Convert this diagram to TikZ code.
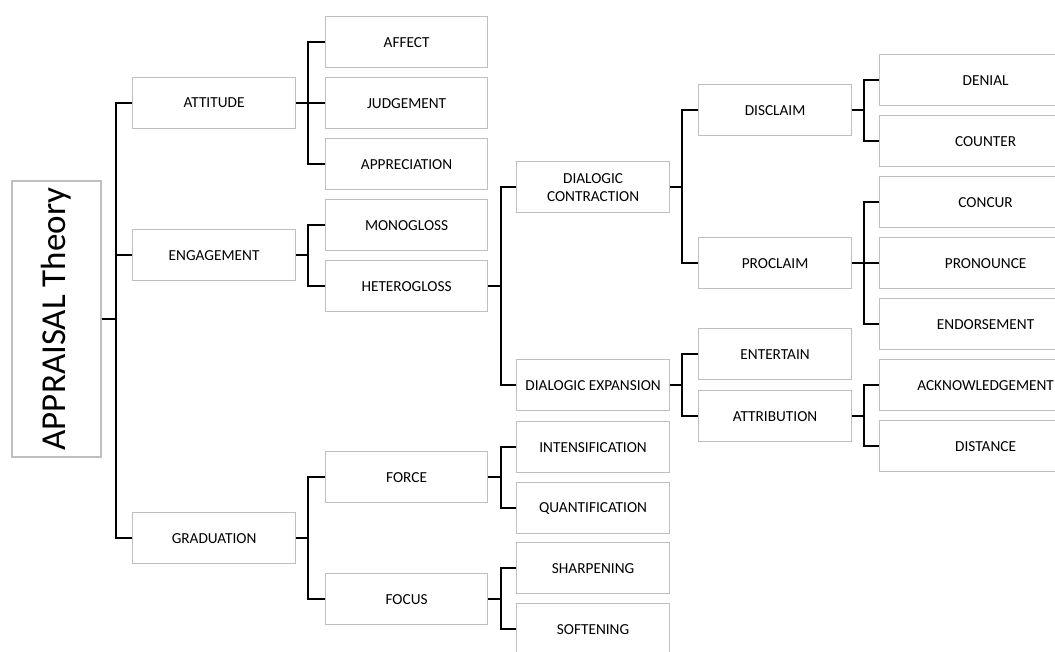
\documentclass[tikz,border=0pt]{standalone}
\usepackage{fontspec}
\setmainfont{Carlito}
\definecolor{boxgray}{HTML}{BFBFBF}
\begin{document}
\begin{tikzpicture}[x=1pt,y=-1pt,
  box/.style={draw=boxgray, line width=1.2pt, minimum height=51pt, inner sep=0pt,
    anchor=north west, align=center, text=black, font=\fontsize{15.3}{18}\selectfont},
  c1/.style={box, minimum width=163pt},
  c2/.style={box, minimum width=162pt},
  c3/.style={box, minimum width=153pt},
  c4/.style={box, minimum width=153pt},
  c5/.style={box, minimum width=212pt},
  conn/.style={draw=black, line width=2.2pt, line join=miter}]
\clip (0,0) rectangle (1055,651);
\useasboundingbox (0,0) rectangle (1055,651);
\fill[white] (0,0) rectangle (1055,651);

\coordinate (b1) at (116,0);
\coordinate (b2) at (308,0);
\coordinate (b3) at (501,0);
\coordinate (b4) at (682,0);
\coordinate (b5) at (864,0);

% root
\node[draw=boxgray, line width=1.2pt, rotate=90, minimum width=276pt, minimum height=89pt,
  inner sep=0pt, font=\fontsize{35}{40}\selectfont] (root) at (56.5,319) {APPRAISAL Theory};

% column 1
\node[c1] (att) at (132,77) {ATTITUDE};
\node[c1] (eng) at (132,229) {ENGAGEMENT};
\node[c1] (gra) at (132,512) {GRADUATION};

% column 2
\node[c2] (aff) at (325,16) {AFFECT};
\node[c2] (jud) at (325,77) {JUDGEMENT};
\node[c2] (app) at (325,138) {APPRECIATION};
\node[c2] (mon) at (325,199) {MONOGLOSS};
\node[c2] (het) at (325,260) {HETEROGLOSS};
\node[c2] (for) at (325,451) {FORCE};
\node[c2] (foc) at (325,573) {FOCUS};

% column 3
\node[c3] (dc) at (516,161) {DIALOGIC\\CONTRACTION};
\node[c3] (de) at (516,359) {DIALOGIC EXPANSION};
\node[c3] (int) at (516,421) {INTENSIFICATION};
\node[c3] (qua) at (516,482) {QUANTIFICATION};
\node[c3] (sha) at (516,542) {SHARPENING};
\node[c3] (sof) at (516,603) {SOFTENING};

% column 4
\node[c4] (dis) at (698,84) {DISCLAIM};
\node[c4] (pro) at (698,237) {PROCLAIM};
\node[c4] (ent) at (698,328) {ENTERTAIN};
\node[c4] (atr) at (698,390) {ATTRIBUTION};

% column 5
\node[c5] (den) at (879,54) {DENIAL};
\node[c5] (cou) at (879,115) {COUNTER};
\node[c5] (con) at (879,176) {CONCUR};
\node[c5] (prn) at (879,237) {PRONOUNCE};
\node[c5] (end) at (879,298) {ENDORSEMENT};
\node[c5] (ack) at (879,359) {ACKNOWLEDGEMENT};
\node[c5] (dst) at (879,420) {DISTANCE};

% connectors
\foreach \p/\c/\b in {root.south/att/b1, root.south/eng/b1, root.south/gra/b1,
  att/aff/b2, att/jud/b2, att/app/b2,
  eng/mon/b2, eng/het/b2,
  gra/for/b2, gra/foc/b2,
  het/dc/b3, het/de/b3,
  for/int/b3, for/qua/b3,
  foc/sha/b3, foc/sof/b3,
  dc/dis/b4, dc/pro/b4,
  de/ent/b4, de/atr/b4,
  dis/den/b5, dis/cou/b5,
  pro/con/b5, pro/prn/b5, pro/end/b5,
  atr/ack/b5, atr/dst/b5}
  {\draw[conn] (\p) -| (\b |- \c.west) -- (\c.west);}
\end{tikzpicture}
\end{document}
